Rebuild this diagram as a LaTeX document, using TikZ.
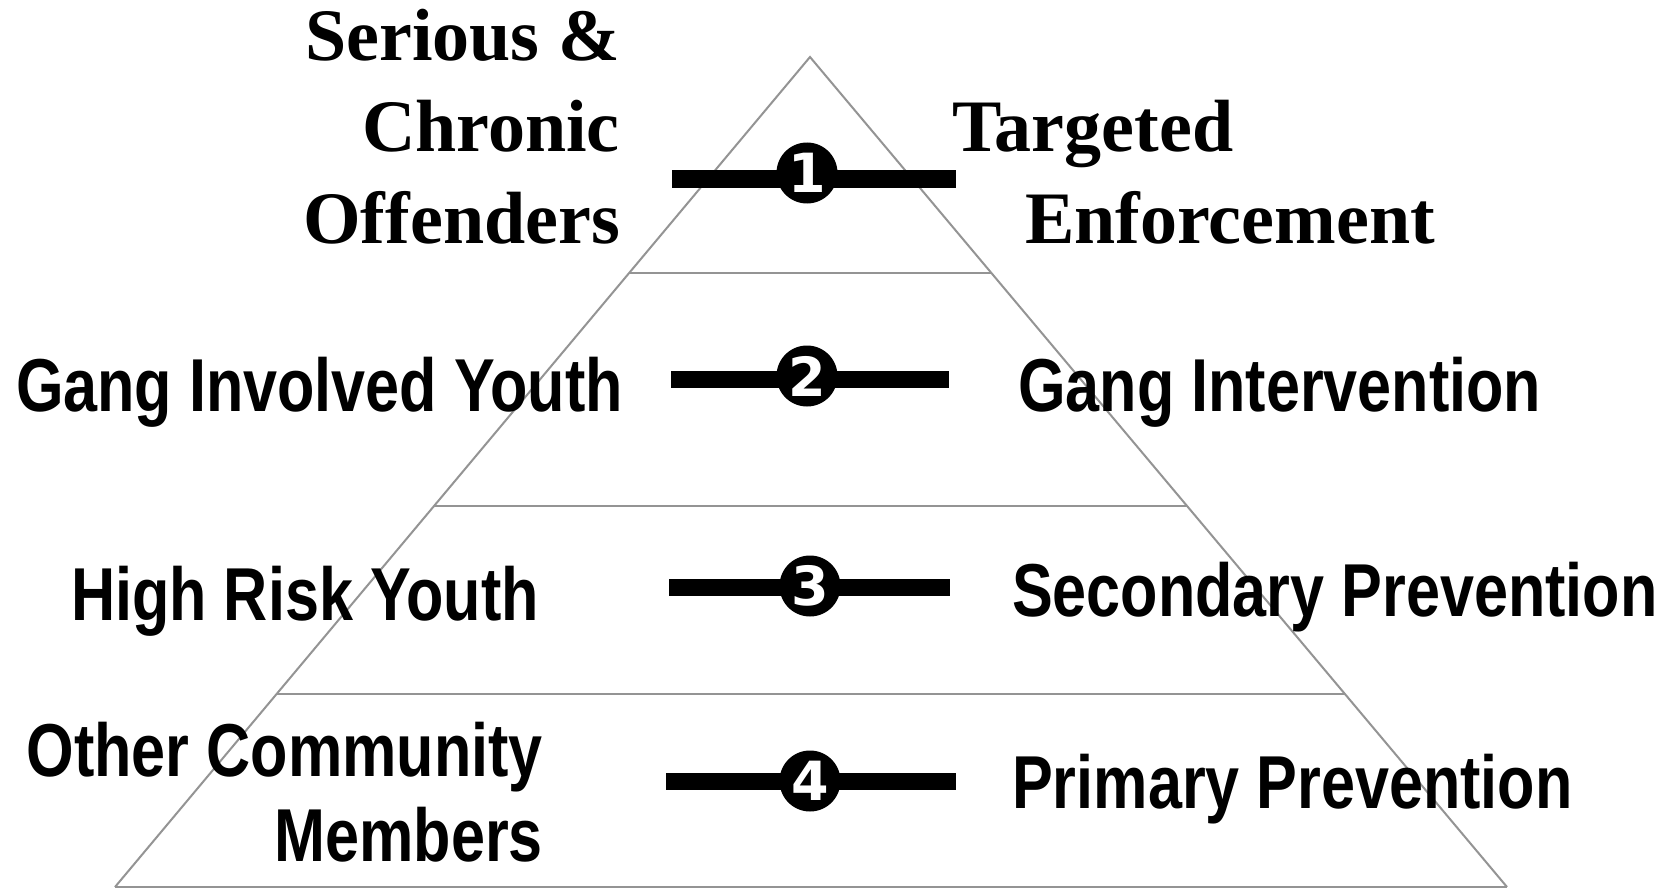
\documentclass[tikz,border=0pt]{standalone}
\usepackage{fontspec}
\setmainfont{Liberation Serif}
\newfontfamily\narrowfont[FakeStretch=0.815]{Liberation Sans}
\newfontfamily\numfont{DejaVu Sans}
\usetikzlibrary{calc}
\tikzset{
  serifl/.style={font=\fontsize{74}{80}\selectfont\bfseries, inner sep=0pt},
  sansl/.style={font=\narrowfont\fontsize{75}{80}\selectfont\bfseries, inner sep=0pt},
  numc/.style={circle, fill=black, minimum size=61pt, inner sep=0pt, text=white,
    font=\numfont\fontsize{54}{54}\selectfont\bfseries},
  bar/.style={line width=17pt, black},
  pyr/.style={draw=black!42, line width=2pt},
}
\begin{document}
\begin{tikzpicture}[x=1pt, y=-1pt]
\useasboundingbox (0,0) rectangle (1671,888);
% pyramid
\coordinate (apex) at (810,57);
\coordinate (bl) at (115,887);
\coordinate (br) at (1507,887);
\draw[pyr] (bl) -- (apex) -- (br);
\draw[pyr] (bl) -- (br);
\coordinate (l1) at ($(apex)!0.2602!(bl)$);
\coordinate (r1) at ($(apex)!0.2602!(br)$);
\coordinate (l2) at ($(apex)!0.5410!(bl)$);
\coordinate (r2) at ($(apex)!0.5410!(br)$);
\coordinate (l3) at ($(apex)!0.7675!(bl)$);
\coordinate (r3) at ($(apex)!0.7675!(br)$);
\draw[pyr] (l1) -- (r1);
\draw[pyr] (l2) -- (r2);
\draw[pyr] (l3) -- (r3);
% bars
\coordinate (b1l) at (672,179); \coordinate (b1r) at (956,179);
\coordinate (b2l) at (671,379); \coordinate (b2r) at (949,379);
\coordinate (b3l) at (669,587); \coordinate (b3r) at (950,587);
\coordinate (b4l) at (666,781); \coordinate (b4r) at (956,781);
\draw[bar] (b1l) -- (b1r);
\draw[bar] (b2l) -- (b2r);
\draw[bar] (b3l) -- (b3r);
\draw[bar] (b4l) -- (b4r);
\node[numc] (n1) at (807,173) {1};
\node[numc] (n2) at (807,376) {2};
\node[numc] (n3) at (810,586) {3};
\node[numc] (n4) at (810,781) {4};
% left labels
\node[serifl, anchor=base east] (s1) at (620,61) {Serious \&};
\node[serifl, anchor=base east] (s2) at (620,152) {Chronic};
\node[serifl, anchor=base east] (s3) at (620,243) {Offenders};
\node[sansl, anchor=base east] (g1) at (623,411) {Gang Involved Youth};
\node[sansl, anchor=base west] (h1) at (71,620) {High Risk Youth};
\node[sansl, anchor=base east] (o1) at (543,776) {Other Community};
\node[sansl, anchor=base east] (o2) at (543,861) {Members};
% right labels
\node[serifl, anchor=base west] (t1) at (952,152) {Targeted};
\node[serifl, anchor=base west] (t2) at (1025,243) {Enforcement};
\node[sansl, anchor=base west] (g2) at (1018,411) {Gang Intervention};
\node[sansl, anchor=base west] (p2) at (1012,616) {Secondary Prevention};
\node[sansl, anchor=base west] (p1) at (1012,808) {Primary Prevention};
\end{tikzpicture}
\end{document}
